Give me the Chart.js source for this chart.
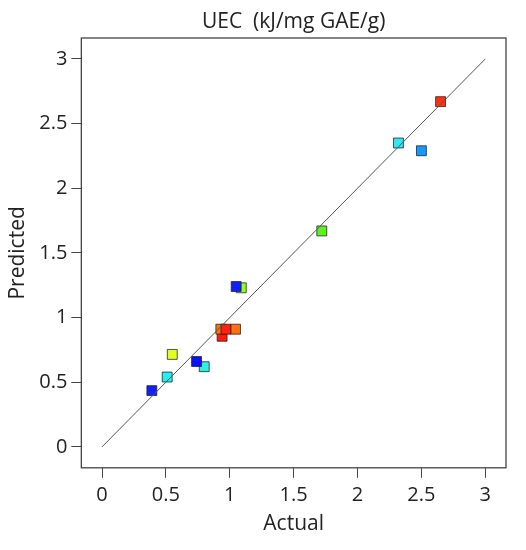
<!DOCTYPE html>
<html>
<head>
<meta charset="utf-8">
<script src="https://cdn.jsdelivr.net/npm/chart.js@4/dist/chart.umd.min.js"></script>
<style>
  html, body { margin: 0; padding: 0; background: #fff; }
  #wrap { width: 526px; height: 550px; }
</style>
</head>
<body>
<div id="wrap"><canvas id="myChart"></canvas></div>
<script>
// values
const chartTitle = "UEC  (kJ/mg GAE/g)";
const actual    = [0.39, 0.51, 0.55, 0.80, 0.74, 0.94, 0.93, 1.045, 0.97, 1.09, 1.05, 1.72, 2.32, 2.50, 2.65];
const predicted = [0.435, 0.54, 0.715, 0.62, 0.66, 0.855, 0.91, 0.91, 0.91, 1.23, 1.24, 1.67, 2.35, 2.29, 2.67];
const pointColors = ["#1020ff", "#20f0f0", "#e0ff20", "#30f0e0", "#0a10ff", "#ff1a10", "#ff7010",
                     "#ff7010", "#ff2010", "#90ff20", "#1020ff", "#60f020", "#30e8f8", "#1898ff", "#ff3010"];
const lineX = [0, 3];
const lineY = [0, 3];
const tickValues = [0, 0.5, 1, 1.5, 2, 2.5, 3];

const font = "'Open Sans', 'Noto Sans', sans-serif";
const textColor = "#222";
const axisColor = "#444";

// box round the plot and the title over its middle
const frame = {
  id: "frame",
  afterDraw(chart) {
    const a = chart.chartArea;
    const ctx = chart.ctx;
    ctx.save();
    ctx.strokeStyle = axisColor;
    ctx.lineWidth = 1.3;
    ctx.strokeRect(a.left, a.top, a.right - a.left, a.bottom - a.top);
    ctx.fillStyle = textColor;
    ctx.font = "21px " + font;
    ctx.textAlign = "center";
    ctx.textBaseline = "middle";
    ctx.fillText(chartTitle, (a.left + a.right) / 2, 22);
    ctx.restore();
  }
};

function axis(title, tickPad, titlePad) {
  return {
    type: "linear",
    min: -0.162,
    max: 3.162,
    afterBuildTicks: (s) => { s.ticks = tickValues.map(v => ({ value: v })); },
    grid: { display: true, drawOnChartArea: false, drawTicks: true, tickLength: 10, color: axisColor, lineWidth: 1 },
    border: { display: false },
    ticks: { color: textColor, font: { family: font, size: 20 }, padding: tickPad, maxRotation: 0,
             callback: (v) => String(v) },
    title: { display: true, text: title, color: textColor, font: { family: font, size: 21 }, padding: titlePad }
  };
}

const ctx = document.getElementById("myChart").getContext("2d");
const chart = new Chart(ctx, {
  type: "scatter",
  data: {
    datasets: [
      {
        label: "fit",
        type: "line",
        data: lineX.map((x, i) => ({ x: x, y: lineY[i] })),
        borderColor: "#555",
        borderWidth: 1,
        pointRadius: 0,
        fill: false,
        order: 0
      },
      {
        label: "points",
        data: actual.map((x, i) => ({ x: x, y: predicted[i] })),
        pointStyle: "rect",
        pointRadius: 7,
        pointHoverRadius: 7,
        backgroundColor: pointColors,
        borderColor: "rgba(30,30,30,0.75)",
        borderWidth: 1,
        order: 1
      }
    ]
  },
  options: {
    responsive: true,
    maintainAspectRatio: false,
    animation: false,
    layout: { padding: { top: 38, right: 20, bottom: 13, left: 5 } },
    plugins: { legend: { display: false }, tooltip: { enabled: false } },
    scales: {
      x: axis("Actual", 5, 0),
      y: axis("Predicted", 4, { top: 0, bottom: 5 })
    }
  },
  plugins: [frame]
});
</script>
</body>
</html>
